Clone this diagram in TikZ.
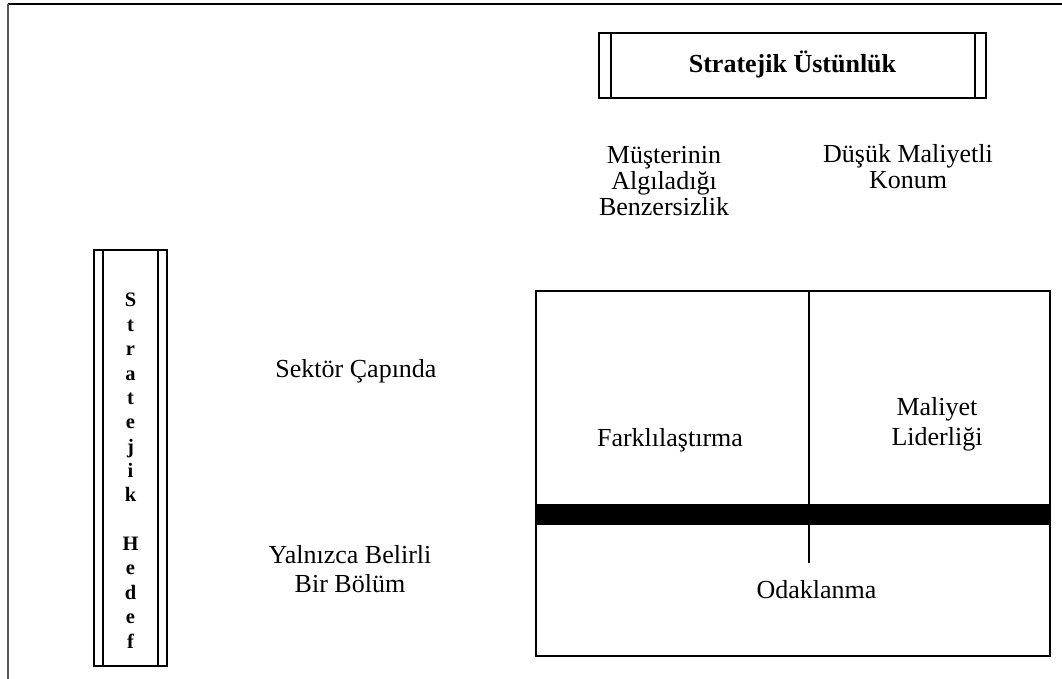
\documentclass[tikz,border=0pt]{standalone}
\usepackage{fontspec}
\setmainfont{Liberation Serif}
\begin{document}
\begin{tikzpicture}[x=1pt,y=-1pt,
  lbl/.style={font=\fontsize{26}{26}\selectfont, align=center, inner sep=0pt, anchor=base},
  vlbl/.style={font=\fontsize{20.5}{24.36}\selectfont\bfseries, align=center, inner sep=0pt, anchor=base},
  frame/.style={draw, line width=1.6pt, inner sep=0pt},
  rule/.style={line width=1.6pt}]
\useasboundingbox (0,0) rectangle (1062,679);
% page border lines
\coordinate (tl) at (7.5,4);
\coordinate (tr) at (1062,4);
\coordinate (bl) at (7.5,679);
\draw[line width=2pt] (tl) -- (tr);
\draw[line width=2pt, black!65] (tl) -- (bl);
% top box
\node[frame, minimum width=387, minimum height=65] (su) at (792.5,65.5) {};
\draw[rule] ([xshift=12.5pt]su.north west) -- ([xshift=12.5pt]su.south west);
\draw[rule] ([xshift=-12pt]su.north east) -- ([xshift=-12pt]su.south east);
\node[lbl, font=\fontsize{26}{26}\selectfont\bfseries] (sut) at (792.5,73) {Stratejik Üstünlük};
% column heads (anchor = baseline of last line)
\node[lbl, font=\fontsize{26}{26}\selectfont] (mus) at (664,215) {Müşterinin\\Algıladığı\\Benzersizlik};
\node[lbl, font=\fontsize{26}{26}\selectfont] (dus) at (908,189) {Düşük Maliyetli\\Konum};
% left vertical box
\node[frame, minimum width=73, minimum height=416] (sh) at (130.5,458) {};
\draw[rule] ([xshift=10pt]sh.north west) -- ([xshift=10pt]sh.south west);
\draw[rule] ([xshift=-10pt]sh.north east) -- ([xshift=-10pt]sh.south east);
\node[vlbl] (sht) at (130.5,648) {S\\t\\r\\a\\t\\e\\j\\i\\k\\[24.36pt]H\\e\\d\\e\\f};
% row heads
\node[lbl] (sek) at (356,377) {Sektör Çapında};
\node[lbl, font=\fontsize{26}{29}\selectfont] (yal) at (350,592) {Yalnızca Belirli\\Bir Bölüm};
% main grid
\node[frame, minimum width=514, minimum height=365, anchor=north west] (mb) at (535,290) {};
\coordinate (dtop) at (809,290);
\coordinate (dbot) at (809,563);
\draw[rule] (dtop) -- (dbot);
\fill ([yshift=-214pt]mb.north west) rectangle ([yshift=-234.6pt]mb.north east);
\node[lbl] (far) at (670,446) {Farklılaştırma};
\node[lbl, font=\fontsize{26}{30}\selectfont] (mal) at (937,445) {Maliyet\\Liderliği};
\node[lbl] (oda) at (816.5,598) {Odaklanma};
\end{tikzpicture}
\end{document}
